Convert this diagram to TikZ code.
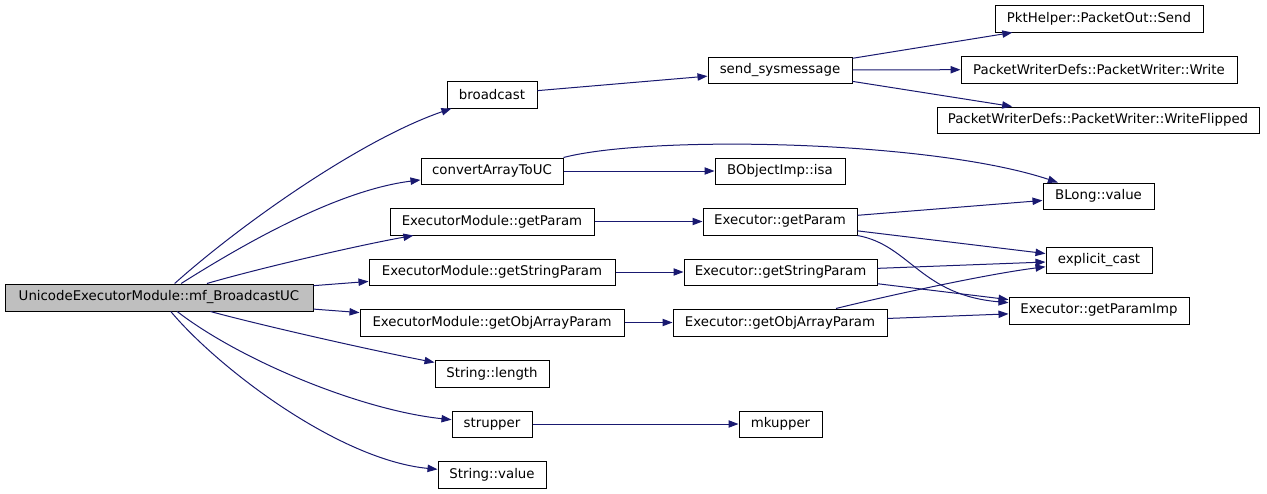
\documentclass[tikz,border=0pt]{standalone}
\usepackage{fontspec}
\setmainfont{DejaVu Sans}
\usetikzlibrary{arrows.meta}
\definecolor{edgecol}{HTML}{191970}
\definecolor{mainfill}{HTML}{BFBFBF}
\tikzset{
  box/.style={draw=black, line width=0.75pt, rectangle, inner sep=0pt, fill=white,
    font=\fontsize{10pt}{12pt}\selectfont, text=black},
  mainbox/.style={box, fill=mainfill},
  edge/.style={draw=edgecol, line width=0.75pt, -{Triangle[length=7.5pt,width=5.5pt]}},
}
\newcommand\bx[7][box]{%
  \node[#1, minimum width={(#5-#3)*0.75pt}, minimum height={(#6-#4)*0.75pt}]
    (#2) at ({(#3+#5)/2},{(#4+#6)/2}) {#7};}
\begin{document}
\begin{tikzpicture}[x=0.75pt,y=-0.75pt]
\useasboundingbox[fill=white] (0,0) rectangle (1267,493);
\bx[mainbox]{main}{5}{284}{313}{311}{UnicodeExecutorModule::mf\_BroadcastUC}
\bx{broadcast}{447}{81}{537}{108}{broadcast}
\bx{send}{708}{57}{852}{83}{send\_sysmessage}
\bx{pkt}{995}{5}{1203}{32}{PktHelper::PacketOut::Send}
\bx{write}{961}{56}{1237}{83}{PacketWriterDefs::PacketWriter::Write}
\bx{wflip}{937}{107}{1259}{133}{PacketWriterDefs::PacketWriter::WriteFlipped}
\bx{conv}{421}{158}{563}{184}{convertArrayToUC}
\bx{isa}{715}{158}{845}{184}{BObjectImp::isa}
\bx{blong}{1043}{183}{1154}{209}{BLong::value}
\bx{emgp}{390}{208}{594}{235}{ExecutorModule::getParam}
\bx{egp}{703}{208}{857}{235}{Executor::getParam}
\bx{ecast}{1046}{247}{1152}{273}{explicit\_cast}
\bx{emgsp}{369}{259}{615}{285}{ExecutorModule::getStringParam}
\bx{egsp}{684}{259}{877}{285}{Executor::getStringParam}
\bx{gpi}{1009}{297}{1189}{324}{Executor::getParamImp}
\bx{emgoa}{360}{309}{624}{336}{ExecutorModule::getObjArrayParam}
\bx{egoa}{673}{309}{887}{336}{Executor::getObjArrayParam}
\bx{slen}{435}{360}{549}{387}{String::length}
\bx{strup}{452}{411}{532}{437}{strupper}
\bx{mkup}{739}{411}{822}{437}{mkupper}
\bx{sval}{438}{461}{546}{488}{String::value}

\draw[edge] (main) .. controls (240,225) and (360,140) .. (broadcast);
\draw[edge] (main) .. controls (250,240) and (340,190) .. (conv);
\draw[edge] (main) .. controls (260,268) and (360,245) .. (emgp);
\draw[edge] (main) -- (emgsp);
\draw[edge] (main) -- (emgoa);
\draw[edge] (main) .. controls (260,325) and (370,350) .. (slen);
\draw[edge] (main) .. controls (240,360) and (360,410) .. (strup);
\draw[edge] (main) .. controls (220,370) and (340,460) .. (sval);
\draw[edge] (broadcast) -- (send);
\draw[edge] (send) -- (pkt);
\draw[edge] (send) -- (write);
\draw[edge] (send) -- (wflip);
\draw[edge] (conv) -- (isa);
\draw[edge] (conv.north east) .. controls (650,135) and (930,140) .. (blong);
\draw[edge] (emgp) -- (egp);
\draw[edge] (emgsp) -- (egsp);
\draw[edge] (emgoa) -- (egoa);
\draw[edge] (egp) -- (blong);
\draw[edge] (egp) -- (ecast);
\draw[edge] (egp) .. controls (910,245) and (920,295) .. (gpi);
\draw[edge] (egsp) -- (ecast);
\draw[edge] (egsp) -- (gpi);
\draw[edge] (egoa) .. controls (870,300) and (980,275) .. (ecast);
\draw[edge] (egoa) -- (gpi);
\draw[edge] (strup) -- (mkup);
\end{tikzpicture}
\end{document}
